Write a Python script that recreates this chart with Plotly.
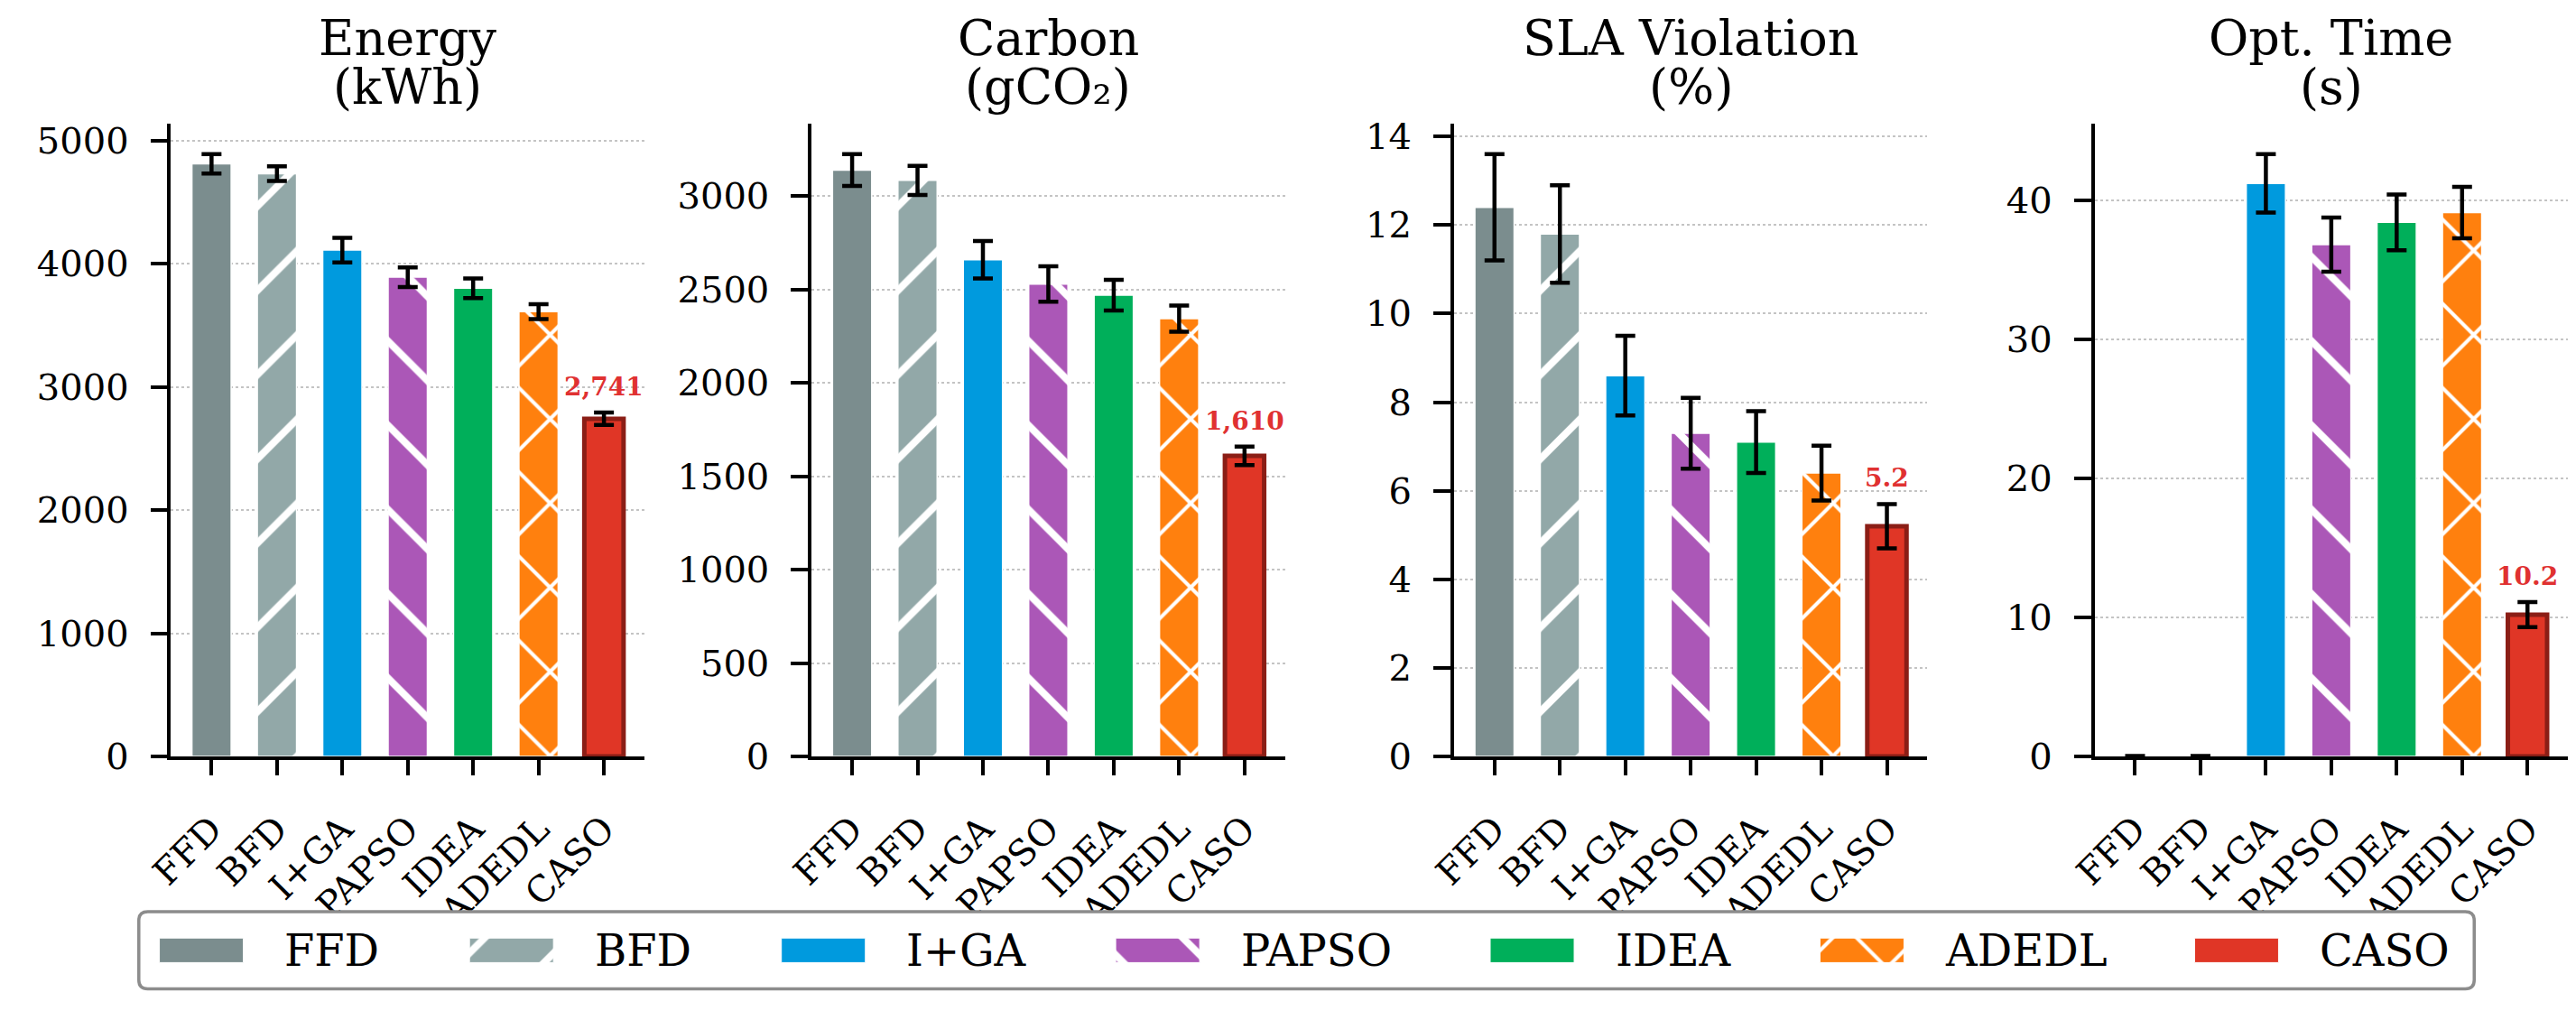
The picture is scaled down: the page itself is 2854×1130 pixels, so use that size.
import plotly.graph_objects as go

W, H = 2854, 1130
FONT = "DejaVu Serif"

methods = ["FFD", "BFD", "I+GA", "PAPSO", "IDEA", "ADEDL", "CASO"]
colors = ["#7b8d8e", "#92a8a8", "#009ade", "#ab57b7", "#00af5a", "#ff800e", "#e03626"]
hatches = ["", "/", "", "\\", "", "x", ""]
caso_edge = "#8b1e16"

energy = [4810, 4730, 4110, 3890, 3800, 3610, 2741]
energy_err = [78, 60, 100, 80, 80, 60, 50]
carbon = [3140, 3085, 2660, 2530, 2470, 2345, 1610]
carbon_err = [85, 78, 100, 95, 82, 70, 50]
sla = [12.4, 11.8, 8.6, 7.3, 7.1, 6.4, 5.2]
sla_err = [1.2, 1.1, 0.9, 0.8, 0.7, 0.62, 0.5]
opt_time = [0.02, 0.03, 41.2, 36.8, 38.4, 39.1, 10.2]
opt_time_err = [0.01, 0.01, 2.1, 1.95, 2.0, 1.85, 0.9]

panels = [
    ("Energy", "(kWh)", energy, energy_err, 1000),
    ("Carbon", "(gCO₂)", carbon, carbon_err, 500),
    ("SLA Violation", "(%)", sla, sla_err, 2),
    ("Opt. Time", "(s)", opt_time, opt_time_err, 10),
]

# layout in pixels (from top-left)
ax_left = [154, 871, 1590, 2307]
ax_w = 530
ax_top, ax_bottom = 124, 845


def px_x(p):
    return p / W


def px_y(p):
    return 1 - p / H


def fmt(v):
    return f"{v:,.0f}" if v >= 1000 else f"{v:.1f}"


def bar_marker(j):
    m = methods[j]
    mk = dict(color=colors[j],
              line=dict(color=caso_edge if m == "CASO" else "white",
                        width=5 if m == "CASO" else 1.5))
    if hatches[j]:
        mk["pattern"] = dict(shape=hatches[j], fgcolor="white", bgcolor=colors[j],
                             fgopacity=1, size=66, solidity=0.12, fillmode="replace")
    return mk


fig = go.Figure()
layout = dict(
    width=W, height=H, margin=dict(l=0, r=0, t=0, b=0),
    paper_bgcolor="white", plot_bgcolor="white",
    font=dict(family=FONT, color="black", size=40),
    showlegend=False, barmode="overlay",
)
annotations = []

for i, (t1, t2, vals, errs, dtick) in enumerate(panels):
    n = "" if i == 0 else str(i + 1)
    xa, ya = "x" + n, "y" + n
    for j, m in enumerate(methods):
        fig.add_trace(go.Bar(
            x=[m], y=[vals[j]], xaxis=xa, yaxis=ya, width=0.6, name=m,
            marker=bar_marker(j),
            error_y=dict(type="data", array=[errs[j]], visible=True, color="black",
                         thickness=4.5, width=11),
        ))
    ymax = max(v + e for v, e in zip(vals, errs)) * 1.05
    layout["xaxis" + n] = dict(
        domain=[px_x(ax_left[i]), px_x(ax_left[i] + ax_w)], anchor=ya,
        type="category", categoryorder="array", categoryarray=methods,
        range=[-0.62, 6.62], showline=True, linecolor="black", linewidth=3.7,
        ticks="outside", ticklen=17, tickwidth=3.7, tickcolor="black",
        tickangle=-45, tickfont=dict(size=40), ticklabelstandoff=20,
        showgrid=False, zeroline=False,
    )
    layout["yaxis" + n] = dict(
        domain=[px_y(ax_bottom), px_y(ax_top)], anchor=xa,
        range=[0, ymax], dtick=dtick, tickformat="d",
        showline=True, linecolor="black", linewidth=3.7,
        ticks="outside", ticklen=19, tickwidth=3.7, tickcolor="black",
        ticklabelstandoff=16, tickfont=dict(size=40),
        showgrid=True, gridcolor="#c4c4c4", gridwidth=2, griddash="dot",
        zeroline=False,
    )
    cx = px_x(ax_left[i] + ax_w / 2)
    annotations.append(dict(xref="paper", yref="paper", x=cx, y=px_y(26),
                            text=t1, showarrow=False, font=dict(size=54),
                            xanchor="center", yanchor="middle"))
    annotations.append(dict(xref="paper", yref="paper", x=cx, y=px_y(82),
                            text=t2, showarrow=False, font=dict(size=54),
                            xanchor="center", yanchor="middle"))
    k = methods.index("CASO")
    annotations.append(dict(xref=xa, yref=ya, x="CASO", y=vals[k] + errs[k],
                            text=f"<b>{fmt(vals[k])}</b>", showarrow=False,
                            yanchor="bottom", yshift=10,
                            font=dict(size=28, color="#e03131", family=FONT)))

# custom legend drawn on its own pixel-scaled axis
CHAR_EM = {"A": .722, "B": .735, "C": .765, "D": .802, "E": .730, "F": .694,
           "G": .799, "I": .395, "L": .637, "O": .820, "P": .732, "S": .685, "+": .838}
leg_font = 48
patch_w, patch_h, patch_gap, col_gap = 94, 28, 44, 104
box_l, box_r, box_t, box_b = 118, 2732, 1022, 1110
leg_y = H - (box_t + box_b) / 2

x0 = box_l + 23
for j, m in enumerate(methods):
    mk = bar_marker(j)
    mk["line"] = dict(color="white", width=1)
    fig.add_trace(go.Bar(
        x=[patch_w], base=[x0], y=[leg_y], orientation="h", width=patch_h,
        xaxis="x5", yaxis="y5", marker=mk, hoverinfo="skip",
    ))
    annotations.append(dict(xref="x5", yref="y5", x=x0 + patch_w + patch_gap, y=leg_y,
                            text=m, showarrow=False, xanchor="left", yanchor="middle",
                            font=dict(size=leg_font)))
    x0 += patch_w + patch_gap + sum(CHAR_EM.get(c, .7) for c in m) * leg_font + col_gap

layout["xaxis5"] = dict(domain=[0, 1], range=[0, W], anchor="y5", visible=False)
layout["yaxis5"] = dict(domain=[0, 140 / H], range=[0, 140], anchor="x5", visible=False)

r = 10
yb, yt = H - box_b, H - box_t
path = (f"M{box_l + r},{yb} L{box_r - r},{yb} Q{box_r},{yb} {box_r},{yb + r} "
        f"L{box_r},{yt - r} Q{box_r},{yt} {box_r - r},{yt} L{box_l + r},{yt} "
        f"Q{box_l},{yt} {box_l},{yt - r} L{box_l},{yb + r} Q{box_l},{yb} {box_l + r},{yb} Z")
layout["shapes"] = [dict(type="path", xref="x5", yref="y5", path=path,
                         line=dict(color="#8c8c8c", width=3.5), layer="below",
                         fillcolor="white")]
layout["annotations"] = annotations

fig.update_layout(**layout)
fig.write_html("out.html")
